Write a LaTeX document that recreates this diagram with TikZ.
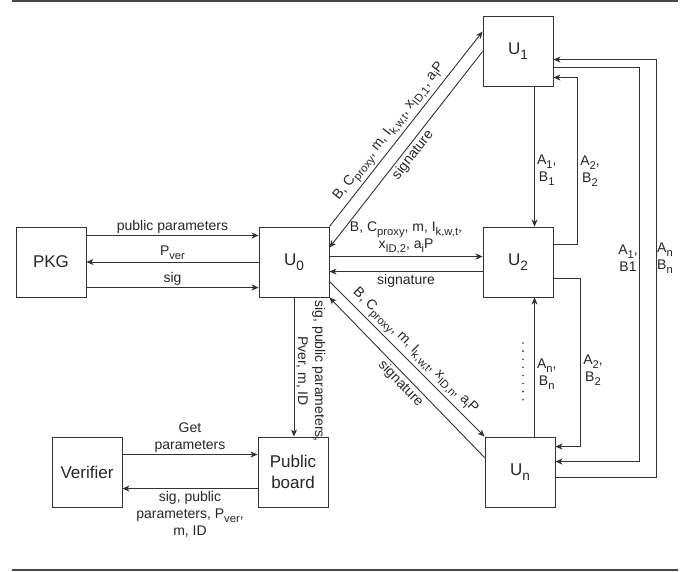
\documentclass[tikz,border=0pt]{standalone}
\usepackage{fontspec}
\setmainfont{Liberation Sans}
\usetikzlibrary{arrows.meta,calc}
\newcommand\lowsub[1]{\raisebox{-0.28em}{\scalebox{0.8}{#1}}}
\begin{document}
\begin{tikzpicture}[x=1pt,y=-1pt,
  box/.style={draw=black!80, line width=0.9pt, minimum width=70pt, minimum height=70pt, inner sep=0pt, font=\fontsize{17}{21}\selectfont, align=center, text=black!85},
  conn/.style={draw=black!80, line width=0.9pt, -{Stealth[length=7pt,width=6pt,inset=2pt]}},
  lbl/.style={font=\fontsize{14}{17}\selectfont, text=black!85, align=center, inner sep=2pt},
]
\useasboundingbox (0,0) rectangle (696,571);
\fill[black!72] (12,0) rectangle (678,2.2);
\fill[black!72] (12,568.8) rectangle (678,571);

\node[box] (PKG) at (51,262) {PKG};
\node[box] (U0) at (294,262) {U\lowsub{0}};
\node[box] (U1) at (518,51) {U\lowsub{1}};
\node[box] (U2) at (518,262) {U\lowsub{2}};
\node[box] (Un) at (520,472) {U\lowsub{n}};
\node[box] (Ver) at (87,472) {Verifier};
\node[box] (Pub) at (293,472) {Public\\board};

% PKG <-> U0
\draw[conn] ($(PKG.north east)+(0,9)$) -- node[lbl,above] (l1) {public parameters} ($(U0.north west)+(0,9)$);
\draw[conn] (U0.west) -- node[lbl,above] (l2) {P\lowsub{ver}} (PKG.east);
\draw[conn] ($(PKG.north east)+(0,61)$) -- node[lbl,above] (l3) {sig} ($(U0.north west)+(0,61)$);

% U0 -> Public board
\draw[conn] (U0.south) -- node[lbl,pos=0.53,rotate=-90,anchor=south] (l4) {sig, public parameters,\\Pver, m, ID} (U0.south |- Pub.north);

% Verifier <-> Public board
\draw[conn] ($(Ver.north east)+(0,18)$) -- node[lbl,above] (l5) {Get\\parameters} ($(Pub.north west)+(0,18)$);
\draw[conn] ($(Pub.north west)+(0,52)$) -- node[lbl,below] (l6) {sig, public\\parameters, P\lowsub{ver},\\m, ID} ($(Ver.north east)+(0,52)$);

% U0 <-> U1
\draw[conn] (U0.north east) -- node[lbl,sloped,above,pos=0.45] (l7) {B, C\lowsub{proxy}, m, I\lowsub{k,w,t}, x\lowsub{ID,1}, a\lowsub{i}P} ($(U1.north west)+(0,16)$);
\draw[conn] ($(U1.north west)+(0,36)$) -- node[lbl,sloped,below] (l8) {signature} ($(U0.north east)+(0,21)$);

% U0 <-> U2
\draw[conn] ($(U0.north east)+(0,30)$) -- node[lbl,above] (l9) {B, C\lowsub{proxy}, m, I\lowsub{k,w,t},\\x\lowsub{ID,2}, a\lowsub{i}P} ($(U2.north west)+(0,30)$);
\draw[conn] ($(U2.north west)+(0,45)$) -- node[lbl,below] (l10) {signature} ($(U0.north east)+(0,45)$);

% U0 <-> Un
\draw[conn] ($(U0.north east)+(0,55)$) -- node[lbl,sloped,above] (l11) {B, C\lowsub{proxy}, m, I\lowsub{k,w,t}, x\lowsub{ID,n}, a\lowsub{i}P} (Un.north west);
\draw[conn] ($(Un.north west)+(0,21)$) -- node[lbl,sloped,below] (l12) {signature} (U0.south east);

% right side
\draw[conn] ($(U1.south west)+(52,0)$) -- node[lbl,right,pos=0.6] (l13) {A\lowsub{1},\\B\lowsub{1}} ($(U2.north west)+(52,0)$);
\draw[conn] ($(U2.north east)+(0,18)$) -- ++(24,0) |- ($(U1.north east)+(0,62)$);
\node[lbl] (l14) at (590,171) {A\lowsub{2},\\B\lowsub{2}};
\draw[conn] ($(U1.north east)+(0,52)$) -- ++(86,0) |- ($(Un.north east)+(0,25)$);
\node[lbl] (l15) at (628,258) {A\lowsub{1},\\B1};
\draw[conn] ($(Un.north east)+(0,41)$) -- ++(101,0) |- ($(U1.north east)+(0,44)$);
\node[lbl] (l16) at (665,258) {A\lowsub{n}\\B\lowsub{n}};
\draw[conn] ($(U2.north east)+(0,52)$) -- ++(27,0) |- ($(Un.north east)+(0,10)$);
\node[lbl] (l17) at (593,370) {A\lowsub{2},\\B\lowsub{2}};
\draw[conn] ($(Un.north west)+(50,0)$) -- node[lbl,right,pos=0.45] (l18) {A\lowsub{n},\\B\lowsub{n}} ($(U2.south west)+(52,0)$);

% dots
\foreach \i in {0,...,7} \fill[black!80] (523,343+8.1*\i) circle (0.9pt);
\end{tikzpicture}
\end{document}
